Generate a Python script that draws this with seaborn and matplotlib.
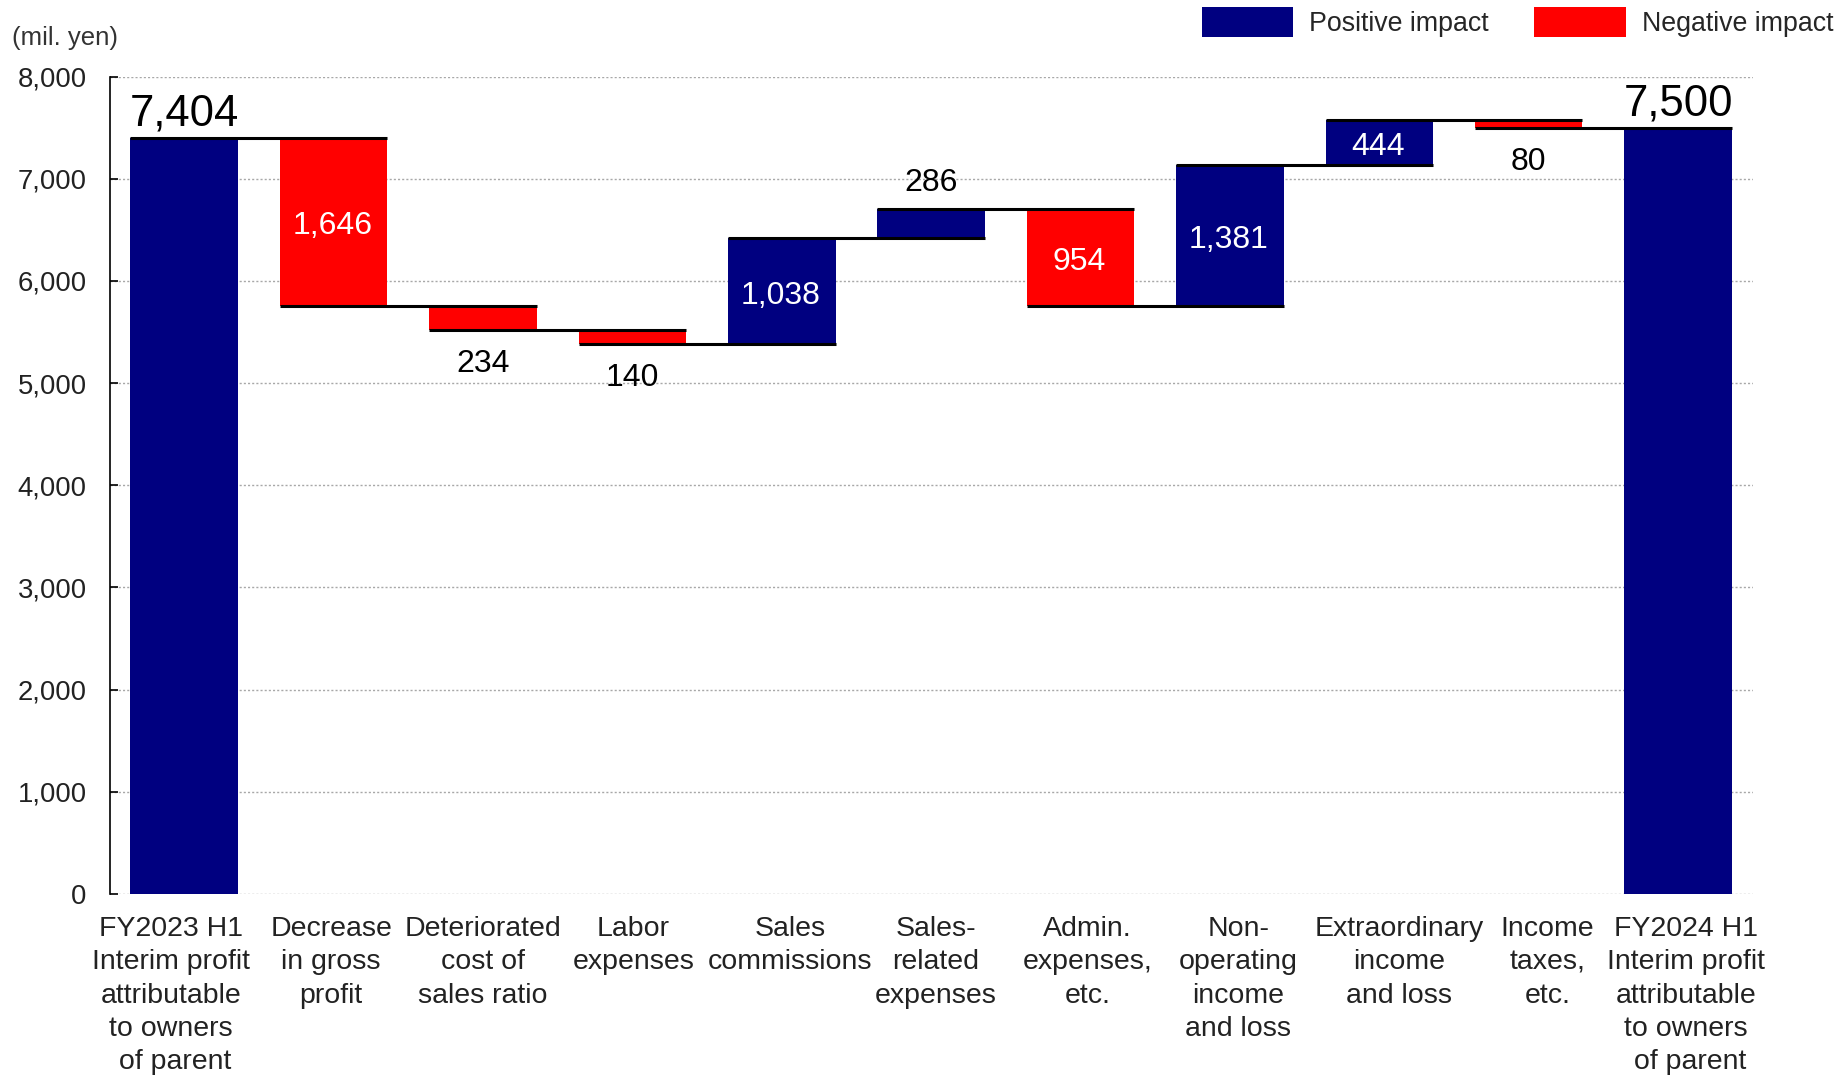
import numpy as np
import pandas as pd
import matplotlib
matplotlib.use("Agg")
import matplotlib.pyplot as plt
import matplotlib.transforms as mtransforms
from matplotlib.patches import Patch
import seaborn as sns

# Profit bridge: FY2023 H1 -> FY2024 H1 (mil. yen)
categories = [
    "FY2023 H1\nInterim profit\nattributable\nto owners\n of parent",
    "Decrease\nin gross\nprofit",
    "Deteriorated\ncost of\nsales ratio",
    "Labor\nexpenses",
    "Sales\ncommissions",
    "Sales-\nrelated\nexpenses",
    "Admin.\nexpenses,\netc.",
    "Non-\noperating\nincome\nand loss",
    "Extraordinary\nincome\nand loss",
    "Income\ntaxes,\netc.",
    "FY2024 H1\nInterim profit\nattributable\nto owners\n of parent",
]
changes = [7404, -1646, -234, -140, 1038, 286, -954, 1381, 444, -80, 7500]
is_total = [True, False, False, False, False, False, False, False, False, False, True]
value_labels = ["7,404", "1,646", "234", "140", "1,038", "286", "954", "1,381", "444", "80", "7,500"]
label_inside = [False, True, False, False, True, False, True, True, True, False, False]
y_ticks = [0, 1000, 2000, 3000, 4000, 5000, 6000, 7000, 8000]

# horizontal nudges (points) for the category text boxes
tick_nudge_pt = [-9.4, -1.7, 0.0, 0.8, 5.9, 3.4, 5.1, 5.9, 14.4, 13.6, 5.9]

POS = "#000080"
NEG = "#FF0000"

# running levels for the floating bars
bottoms, heights, ends = [], [], []
level = 0.0
for val, tot in zip(changes, is_total):
    if tot:
        bottoms.append(0.0)
        heights.append(val)
        level = val
    else:
        start = level
        level = level + val
        bottoms.append(min(start, level))
        heights.append(abs(val))
    ends.append(level)

df = pd.DataFrame({"item": categories, "height": heights})

sns.set_theme(style="white")
plt.rcParams["font.family"] = ["Liberation Sans", "DejaVu Sans"]

fig = plt.figure(figsize=(18.47, 10.75), dpi=100)
ax = fig.add_axes([0.0593, 0.1684, 0.8897, 0.7603])

sns.barplot(data=df, x="item", y="height", order=categories, color=POS,
            width=0.72, bottom=np.array(bottoms), saturation=1,
            errorbar=None, ax=ax, zorder=3, linewidth=0)

for patch, val, tot in zip(ax.patches, changes, is_total):
    patch.set_facecolor(POS if (tot or val > 0) else NEG)
    patch.set_edgecolor("none")

# connector lines from each bar to the next
half = 0.36
for i in range(len(categories) - 1):
    lvl = ends[i]
    if is_total[i + 1]:
        lvl = ends[i + 1]
    ax.hlines(lvl, i - half, i + 1 + half, color="black", lw=2.2, zorder=4)

# value labels
for i, (txt, inside) in enumerate(zip(value_labels, label_inside)):
    b, h = bottoms[i], heights[i]
    if is_total[i]:
        ax.annotate(txt, (i, b + h), xytext=(0, 17), textcoords="offset points",
                    ha="center", va="center", fontsize=31.5, color="black", zorder=5)
    elif inside:
        ax.annotate(txt, (i, b + h / 2), xytext=(-1, -3.5), textcoords="offset points",
                    ha="center", va="center", fontsize=23, color="white", zorder=5)
    elif changes[i] > 0:
        ax.annotate(txt, (i, b + h), xytext=(0, 18.5), textcoords="offset points",
                    ha="center", va="center", fontsize=23, color="black", zorder=5)
    else:
        ax.annotate(txt, (i, b), xytext=(0, -24.5), textcoords="offset points",
                    ha="center", va="center", fontsize=23, color="black", zorder=5)

ax.set_xlim(-0.5, 10.5)
ax.set_ylim(0, 8000)
ax.set_yticks(y_ticks)
ax.set_yticklabels([f"{v:,}" for v in y_ticks])
ax.set_xlabel("")
ax.set_ylabel("")

ax.yaxis.grid(True, color="#a8a8a8", linestyle=(0, (1.5, 1.5)), lw=1.0, zorder=0)
ax.xaxis.grid(False)
ax.set_axisbelow(True)
for s in ["top", "right", "bottom"]:
    ax.spines[s].set_visible(False)
ax.spines["left"].set_color("black")
ax.spines["left"].set_linewidth(1.2)

ax.tick_params(axis="y", direction="in", length=6, width=1.2, color="black",
               labelsize=19.8, labelcolor="#222222", pad=16.5, left=True)
ax.tick_params(axis="x", length=0, labelsize=20.5, labelcolor="#222222", pad=16)
for lab, dx in zip(ax.get_xticklabels(), tick_nudge_pt):
    lab.set_linespacing(1.36)
    lab.set_transform(lab.get_transform() +
                      mtransforms.ScaledTranslation(dx / 72, 0, fig.dpi_scale_trans))

fig.text(12 / 1847, 1 - 38 / 1075, "(mil. yen)", fontsize=18.5, color="#333333",
         ha="left", va="center")

handles = [Patch(facecolor=POS, edgecolor="none", label="Positive impact"),
           Patch(facecolor=NEG, edgecolor="none", label="Negative impact")]
fig.legend(handles=handles, loc="upper left", bbox_to_anchor=(1202 / 1847, 1 - 7 / 1075),
           ncol=2, frameon=False, fontsize=19.3, handlelength=3.4, handleheight=1.36,
           handletextpad=0.6, columnspacing=1.7, borderpad=0, borderaxespad=0)

fig.savefig("out.png", dpi=100)
